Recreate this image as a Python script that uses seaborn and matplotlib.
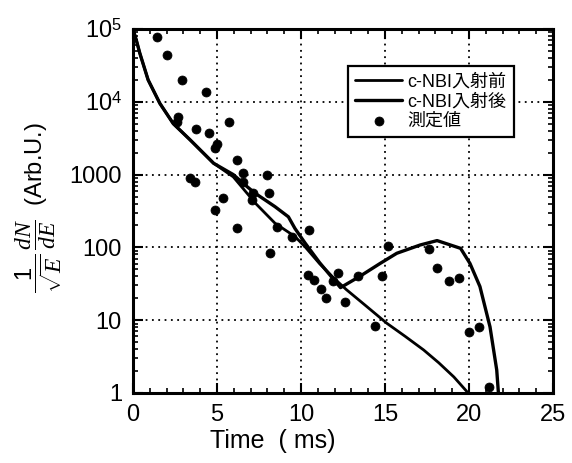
import matplotlib
matplotlib.use("Agg")
import matplotlib.pyplot as plt
import seaborn as sns
from matplotlib.ticker import FixedLocator, FixedFormatter, LogLocator, MultipleLocator, NullFormatter

# Measured points (time in ms, spectrum value in arbitrary units)
meas_t = [1.45, 2.04, 2.9, 4.37, 2.7, 2.6, 5.73, 3.75, 4.54, 4.98, 4.88,
          6.17, 3.4, 3.7, 7.96, 6.53, 6.55, 7.16, 8.11, 7.06, 5.38, 4.88,
          6.21, 8.55, 10.5, 9.44, 8.15, 15.2, 10.4, 10.8, 11.2, 11.5,
          12.6, 12.2, 11.9, 13.4, 14.8, 14.4, 17.6, 18.1, 18.8, 19.4,
          20.0, 20.6, 21.2]
meas_y = [77000, 44000, 20000, 13700, 6150, 5200, 5300, 4200, 3700, 2650, 2300,
          1580, 900, 800, 985, 1040, 800, 560, 550, 450, 470, 330,
          183, 192, 174, 140, 83, 105, 42, 36, 27, 20,
          18, 44, 34, 40, 40, 8.4, 95, 52, 34, 38,
          6.9, 8.0, 1.22]

# Calculated spectrum before c-NBI injection
before_t = [0, 0.2, 0.4, 0.9, 1.6, 2.4, 3.4, 4.8, 5.97, 6.8, 7.26, 8.45, 9.64,
            10.24, 11.1, 12.0, 12.7, 13.9, 15.1, 16.2, 17.3, 18.2, 19.1, 19.95]
before_y = [100000, 70000, 47000, 20000, 9500, 5000, 3000, 1430, 930, 550, 410, 215, 141,
            102, 60, 37, 26.3, 15.5, 9.1, 6.0, 3.9, 2.6, 1.66, 1.0]

# Calculated spectrum after c-NBI injection
after_t = [0, 0.2, 0.4, 0.9, 1.6, 2.4, 3.4, 4.8, 5.97, 6.8, 7.26, 8.45, 9.25, 9.64,
           10.24, 11.1, 12.35, 13.5, 14.7, 15.7, 17.1, 18.1, 19.5, 20.06, 20.65,
           21.25, 21.65, 21.75]
after_y = [100000, 70000, 47000, 20000, 9500, 5000, 3000, 1430, 1000, 680, 556, 363, 263, 182,
           115, 62, 28, 40, 60, 83, 108, 124, 97, 60, 29,
           8.1, 2.07, 1.0]

labels = ["c-NBI入射前", "c-NBI入射後", "測定値"]
y_ticks = [1, 10, 100, 1000, 1e4, 1e5]
y_tick_labels = ["1", "10", "100", "1000", r"10$^4$", r"10$^5$"]
x_ticks = [0, 5, 10, 15, 20, 25]

sns.set_theme(style="ticks")
plt.rcParams["font.family"] = ["Liberation Sans", "Noto Sans CJK JP", "DejaVu Sans"]
plt.rcParams["text.color"] = "black"
plt.rcParams["axes.labelcolor"] = "black"
plt.rcParams["xtick.color"] = "black"
plt.rcParams["ytick.color"] = "black"
plt.rcParams["mathtext.fontset"] = "custom"
plt.rcParams["mathtext.rm"] = "Liberation Sans"
plt.rcParams["mathtext.it"] = "Liberation Serif:italic"
plt.rcParams["mathtext.bf"] = "Liberation Serif:bold"

fig = plt.figure(figsize=(5.72, 4.63), dpi=100)
ax = fig.add_axes([0.2325, 0.1512, 0.7343, 0.7862])

sns.lineplot(x=before_t, y=before_y, sort=False, estimator=None, color="black",
             lw=2.0, ax=ax, label=labels[0], zorder=4)
sns.lineplot(x=after_t, y=after_y, sort=False, estimator=None, color="black",
             lw=2.4, ax=ax, label=labels[1], zorder=4)
sns.scatterplot(x=meas_t, y=meas_y, color="black", edgecolor="black", s=42,
                ax=ax, label=labels[2], zorder=5)

ax.set_yscale("log")
ax.set_xlim(0, 25)
ax.set_ylim(1, 1e5)

ax.xaxis.set_major_locator(FixedLocator(x_ticks))
ax.xaxis.set_minor_locator(MultipleLocator(1))
ax.yaxis.set_major_locator(FixedLocator(y_ticks))
ax.yaxis.set_major_formatter(FixedFormatter(y_tick_labels))
ax.yaxis.set_minor_locator(LogLocator(base=10, subs=range(2, 10)))
ax.yaxis.set_minor_formatter(NullFormatter())

ax.tick_params(which="both", direction="in", top=True, right=True,
               colors="black", labelcolor="black", labelsize=17)
ax.tick_params(which="major", length=7, width=1.5, pad=8)
ax.tick_params(which="minor", length=3.5, width=1.2)

ax.grid(True, which="major", color="black", linestyle=(0, (1, 2.5)), lw=1.3)
for sp in ax.spines.values():
    sp.set_linewidth(2.2)
    sp.set_color("black")

ax.set_xlabel("Time  ( ms)", fontsize=18, color="black")
ax.xaxis.set_label_coords(0.333, -0.1)

# y-axis label: fraction drawn as math text, units in plain text
ylab = r"$\dfrac{\mathit{1}}{\sqrt{E}}\,\dfrac{dN}{dE}$  (Arb.U.)"
ax.set_ylabel(ylab, fontsize=17, color="black")
ax.yaxis.set_label_coords(-0.165, 0.51)

leg = ax.legend(loc="upper left", bbox_to_anchor=(0.512, 0.898), fontsize=13,
                frameon=True, fancybox=False, framealpha=1, edgecolor="black",
                handlelength=2.6, handletextpad=0.3, labelspacing=0.15,
                borderpad=0.4, borderaxespad=0)
leg.get_frame().set_linewidth(1.6)
for t in leg.get_texts():
    t.set_color("black")

fig.savefig("out.png", dpi=100, facecolor="white")
